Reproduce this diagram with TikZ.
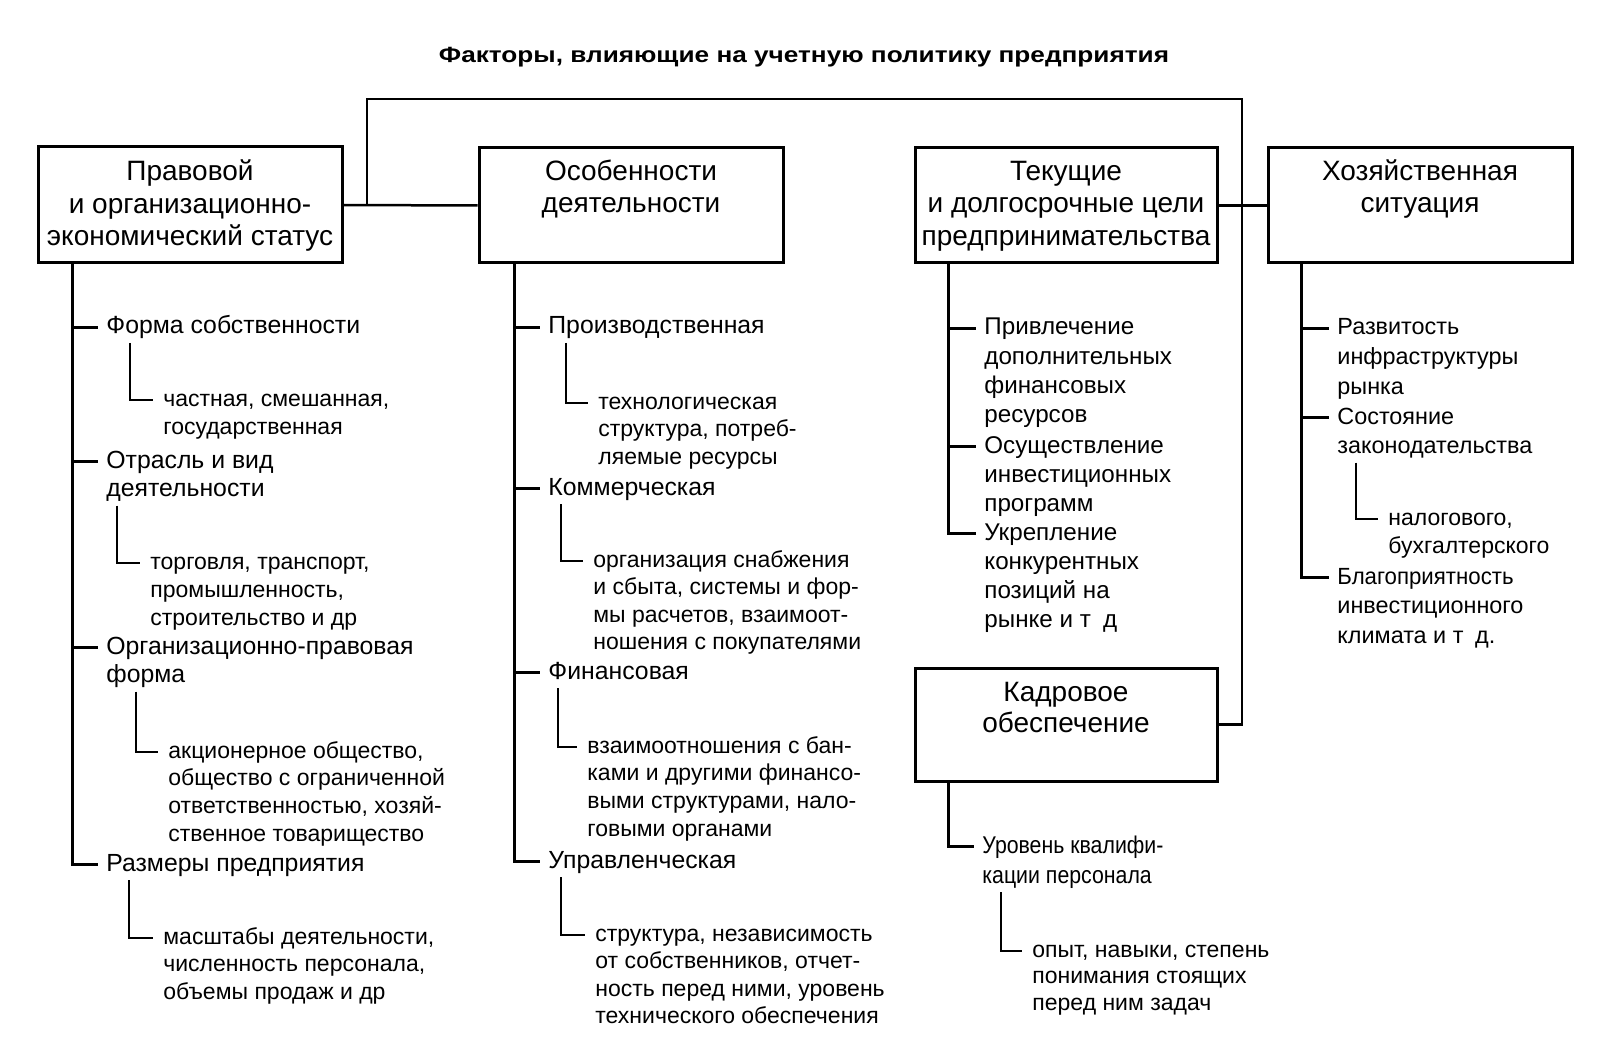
\documentclass[tikz,border=0pt]{standalone}
\usepackage{fontspec}
\setmainfont{Liberation Sans}
\usetikzlibrary{fit,calc}
\newcommand\txtlines[6][]{% [style], name, x, first baseline, spacing, lines
  \foreach \ln [count=\k from 1] in {#6} {
    \node[txt,#1] (#2-\k) at ({#3},{#4+(\k-1)*#5}) {\ln};
  }}
\newcommand\narrow[2]{\scalebox{#1}[1]{#2}}
\tikzset{
  txt/.style={anchor=base west, inner sep=0pt, font=\fontsize{11.5}{14}\selectfont},
  itA/.style={font=\fontsize{12.4}{14}\selectfont},
  itB/.style={font=\fontsize{12.1}{14}\selectfont},
  itC/.style={font=\fontsize{11.7}{14}\selectfont},
  itD/.style={font=\fontsize{12.1}{14}\selectfont},
  btxt/.style={anchor=base, inner sep=0pt, font=\fontsize{14}{16}\selectfont},
  box/.style={draw, line width=1.5pt, inner sep=0pt},
  ln/.style={line width=1.25pt}
}
\begin{document}
\begin{tikzpicture}[x=0.5pt,y=-0.5pt]
\fill[white] (0,0) rectangle (1599,1053);
\useasboundingbox (0,0) rectangle (1599,1053);

\node[anchor=base, inner sep=0pt, font=\bfseries\fontsize{11}{12}\selectfont] (title) at (804,63) {\scalebox{1.19}[1]{Факторы, влияющие на учетную политику предприятия}};

% boxes
\node[box, fit={(38,147)(342,263)}] (b1) {};
\node[box, fit={(479,148)(783,263)}] (b2) {};
\node[box, fit={(915,148)(1217,263)}] (b3) {};
\node[box, fit={(1268,148)(1572,263)}] (b4) {};
\node[box, fit={(915,668)(1217,781)}] (b5) {};

\node[btxt] (b1t1) at (190,181) {Правовой};
\node[btxt] (b1t2) at (190,214) {и организационно-};
\node[btxt] (b1t3) at (190,246) {экономический статус};
\node[btxt] (b2t1) at (631,181) {Особенности};
\node[btxt] (b2t2) at (631,213) {деятельности};
\node[btxt] (b3t1) at (1066,181) {Текущие};
\node[btxt] (b3t2) at (1066,213) {и долгосрочные цели};
\node[btxt] (b3t3) at (1066,246) {предпринимательства};
\node[btxt] (b4t1) at (1420,181) {Хозяйственная};
\node[btxt] (b4t2) at (1420,213) {ситуация};
\node[btxt] (b5t1) at (1066,701) {Кадровое};
\node[btxt] (b5t2) at (1066,732) {обеспечение};

% box connectors
\draw[ln] (b1.east) -- (b2.west);
\draw[ln] (b3.east) -- (b4.west);
\coordinate (jl) at (367,205);
\coordinate (tr) at (1242,99);
\draw[ln] (jl) |- (tr) |- (b5.east);

% column 1
\txtlines[itA]{i11}{106}{334}{28.5}{Форма собственности}
\txtlines{s11}{163}{406}{28.5}{{частная, смешанная,},государственная}
\txtlines[itA]{i12}{106}{468}{28.5}{Отрасль и вид,деятельности}
\txtlines{s12}{150}{569}{28}{{торговля, транспорт,},{промышленность,},строительство и др}
\txtlines[itA]{i13}{106}{654}{28.5}{Организационно-правовая,форма}
\txtlines{s13}{168}{758}{27.7}{{акционерное общество,},общество с ограниченной,{ответственностью, хозяй-},ственное товарищество}
\txtlines[itA]{i14}{106}{871}{28.5}{Размеры предприятия}
\txtlines{s14}{163}{944}{27.5}{{масштабы деятельности,},{численность персонала,},объемы продаж и др}

\draw[ln] ([xshift=18pt]b1.south west) |- ([shift={(-8,-6.5)}]i14-1.base west);
\foreach \n in {i11-1,i12-1,i13-1}
  \draw[ln] ([shift={(-32,-6.5)}]\n.base west) -- ([shift={(-8,-6.5)}]\n.base west);
\draw[ln] ([shift={(24,9)}]i11-1.base west) |- ([shift={(-10,-6)}]s11-1.base west);
\draw[ln] ([shift={(11,9)}]i12-2.base west) |- ([shift={(-10,-6)}]s12-1.base west);
\draw[ln] ([shift={(30,9)}]i13-2.base west) |- ([shift={(-10,-6)}]s13-1.base west);
\draw[ln] ([shift={(23,9)}]i14-1.base west) |- ([shift={(-10,-6)}]s14-1.base west);

% column 2
\txtlines[itA]{i21}{548}{334}{28.5}{Производственная}
\txtlines{s21}{598}{409}{27.5}{технологическая,{структура, потреб-},ляемые ресурсы}
\txtlines[itA]{i22}{548}{495}{28.5}{Коммерческая}
\txtlines{s22}{593}{567}{27.5}{организация снабжения,{и сбыта, системы и фор-},{мы расчетов, взаимоот-},ношения с покупателями}
\txtlines[itA]{i23}{548}{679}{28.5}{Финансовая}
\txtlines{s23}{587}{753}{27.7}{взаимоотношения с бан-,ками и другими финансо-,{выми структурами, нало-},говыми органами}
\txtlines[itA]{i24}{548}{868}{28.5}{Управленческая}
\txtlines{s24}{595}{941}{27.5}{{структура, независимость},{от собственников, отчет-},{ность перед ними, уровень},технического обеспечения}

\draw[ln] ([xshift=18.5pt]b2.south west) |- ([shift={(-8,-6.5)}]i24-1.base west);
\foreach \n in {i21-1,i22-1,i23-1}
  \draw[ln] ([shift={(-32,-6.5)}]\n.base west) -- ([shift={(-8,-6.5)}]\n.base west);
\draw[ln] ([shift={(18,9)}]i21-1.base west) |- ([shift={(-10,-6)}]s21-1.base west);
\draw[ln] ([shift={(13,9)}]i22-1.base west) |- ([shift={(-10,-6)}]s22-1.base west);
\draw[ln] ([shift={(10,9)}]i23-1.base west) |- ([shift={(-10,-6)}]s23-1.base west);
\draw[ln] ([shift={(13,9)}]i24-1.base west) |- ([shift={(-10,-6)}]s24-1.base west);

% column 3
\txtlines[itB]{i31}{984}{335}{29.3}{Привлечение,дополнительных,финансовых,ресурсов}
\txtlines[itB]{i32}{984}{453}{29.3}{Осуществление,инвестиционных,программ}
\txtlines[itB]{i33}{984}{540}{29.3}{Укрепление,конкурентных,позиций на,рынке и т\enspace д}
\draw[ln] ([xshift=17.5pt]b3.south west) |- ([shift={(-8,-6.5)}]i33-1.base west);
\foreach \n in {i31-1,i32-1}
  \draw[ln] ([shift={(-34,-6.5)}]\n.base west) -- ([shift={(-8,-6.5)}]\n.base west);

% column 4
\txtlines[itC]{i41}{1337}{335}{29.5}{Развитость,инфраструктуры,рынка}
\txtlines[itC]{i42}{1337}{424}{29.5}{Состояние,законодательства}
\txtlines{s42}{1388}{525}{28.5}{{налогового,},бухгалтерского}
\txtlines[itC]{i43}{1337}{584}{29.5}{\narrow{0.95}{Благоприятность},инвестиционного,климата и т\enspace д.}
\draw[ln] ([xshift=17.5pt]b4.south west) |- ([shift={(-8,-6.5)}]i43-1.base west);
\foreach \n in {i41-1,i42-1}
  \draw[ln] ([shift={(-34,-6.5)}]\n.base west) -- ([shift={(-8,-6.5)}]\n.base west);
\draw[ln] ([shift={(19,9)}]i42-2.base west) |- ([shift={(-10,-6)}]s42-1.base west);

% column 5
\txtlines[itD]{i51}{982}{853}{30}{\narrow{0.88}{Уровень квалифи-},\narrow{0.88}{кации персонала}}
\txtlines{s51}{1032}{957}{26.5}{{опыт, навыки, степень},понимания стоящих,перед ним задач}
\draw[ln] ([xshift=17.5pt]b5.south west) |- ([shift={(-8,-6.5)}]i51-1.base west);
\draw[ln] ([shift={(19,9)}]i51-2.base west) |- ([shift={(-10,-6)}]s51-1.base west);
\end{tikzpicture}
\end{document}
